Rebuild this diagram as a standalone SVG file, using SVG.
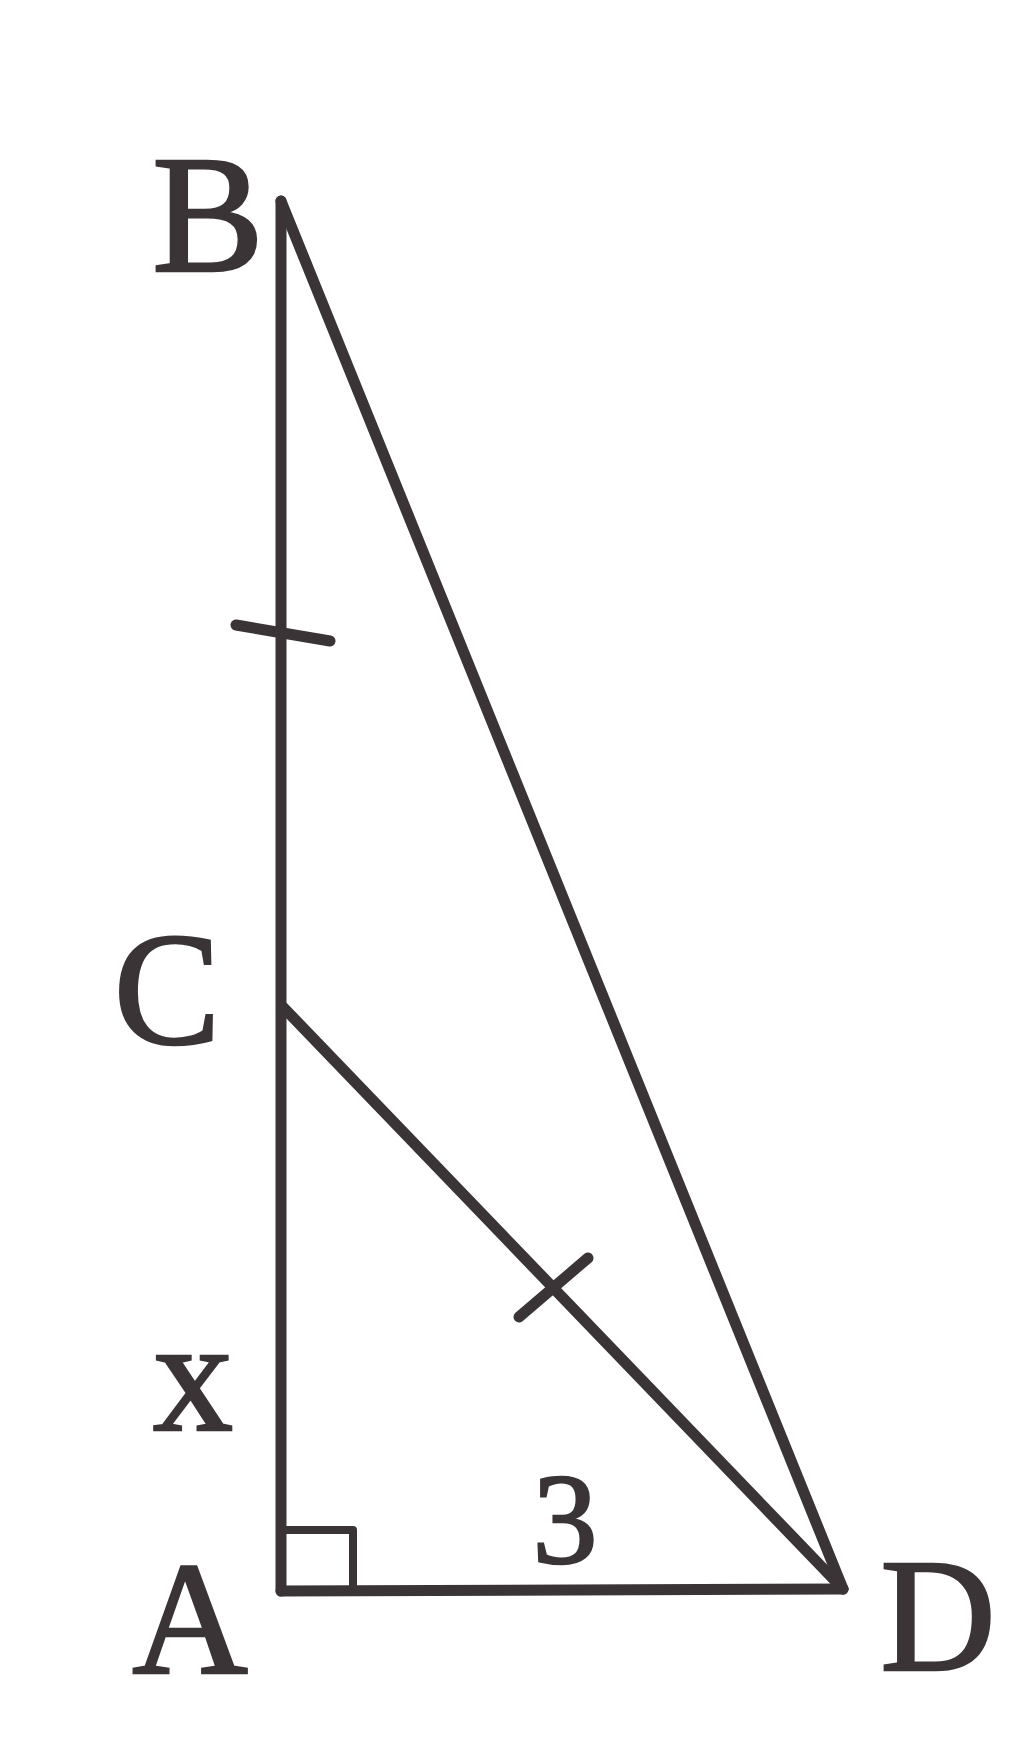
<svg xmlns="http://www.w3.org/2000/svg" width="1024" height="1754" viewBox="0 0 1024 1754">
<style>
.ln{stroke:#3a3436;stroke-width:11;fill:none;stroke-linecap:round;stroke-linejoin:round}
.lb{font-family:"Liberation Serif","Times New Roman",serif;fill:#3a3436;stroke:#3a3436;stroke-width:2.5;text-anchor:middle}
</style>
<rect width="1024" height="1754" fill="#ffffff"/>
<g id="connectors">
<line class="ln" x1="281" y1="201" x2="281" y2="1591"/>
<line class="ln" x1="281" y1="1591" x2="843" y2="1589"/>
<line class="ln" x1="281" y1="201" x2="843" y2="1589"/>
<line class="ln" x1="283" y1="1007" x2="843" y2="1589"/>
<polyline class="ln" style="stroke-width:8" points="281,1530 353,1530 353,1591"/>
<line class="ln" x1="236" y1="625" x2="330" y2="641"/>
<line class="ln" x1="519" y1="1317" x2="588" y2="1258"/>
</g>
<g id="node-B"><text class="lb" x="208" y="271" font-size="168">B</text></g>
<g id="node-C"><text class="lb" x="167" y="1043" font-size="160">C</text></g>
<g id="node-A"><text class="lb" x="190" y="1673" font-size="160">A</text></g>
<g id="node-D"><text class="lb" x="938" y="1670" font-size="160">D</text></g>
<g id="label-x"><text class="lb" x="193" y="1430" font-size="160">x</text></g>
<g id="label-3"><text class="lb" x="565" y="1563" font-size="130">3</text></g>
</svg>
